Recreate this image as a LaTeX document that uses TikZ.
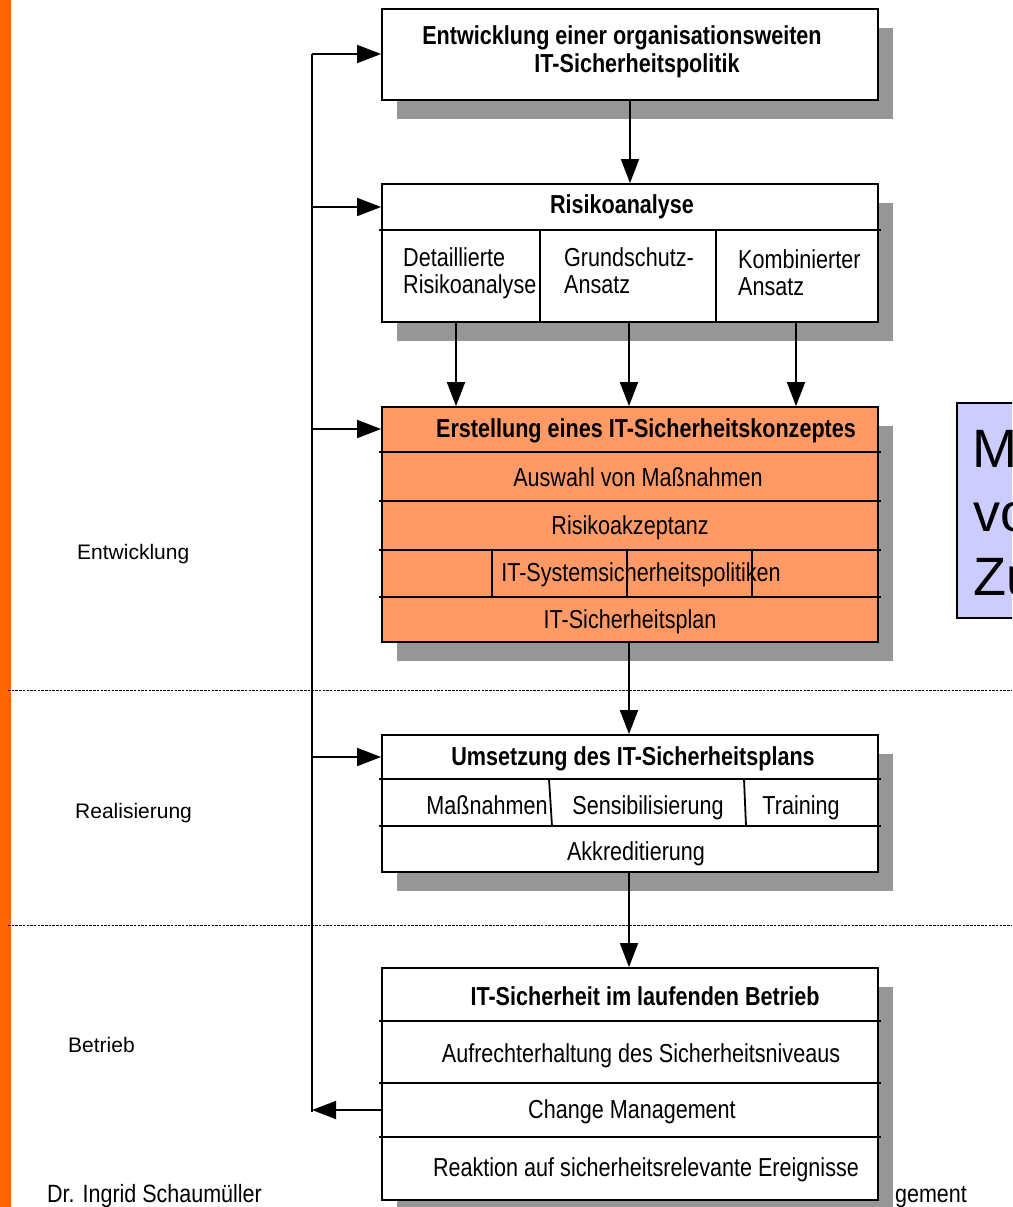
\documentclass[tikz,border=0pt]{standalone}
\usepackage{fontspec}
\setmainfont{Liberation Sans}
\newfontfamily\narrowfont[FakeStretch=0.83]{Liberation Sans}
\newfontfamily\footfont[FakeStretch=0.86]{Liberation Sans}
\usetikzlibrary{arrows.meta,shadows}
\definecolor{barorange}{HTML}{FF6600}
\definecolor{concept}{HTML}{FF9966}
\definecolor{shadowgray}{HTML}{969696}
\definecolor{notebg}{HTML}{CCCCFF}
\begin{document}
\begin{tikzpicture}[x=1pt,y=-1pt,
  box/.style={draw, line width=1.8pt, fill=white, inner sep=0pt, minimum width=496pt,
    drop shadow={opacity=1, fill=shadowgray, shadow xshift=15pt, shadow yshift=-19pt}},
  txt/.style={inner sep=0pt, font=\narrowfont\fontsize{26}{30}\selectfont, text height=18.6pt, text depth=0pt},
  ttl/.style={txt, font=\narrowfont\bfseries\fontsize{26}{30}\selectfont},
  lbl/.style={inner sep=0pt, anchor=west, font=\fontsize{21}{25}\selectfont, text height=15pt, text depth=0pt},
  foot/.style={inner sep=0pt, font=\footfont\fontsize{25}{29}\selectfont, text height=17.9pt, text depth=0pt},
  arr/.style={line width=1.8pt, -{Triangle[length=24pt,width=18pt]}},
  sep/.style={line width=1.8pt},
  phase/.style={line width=1pt, dash pattern=on 2.5pt off 1.2pt}]
\useasboundingbox (0,0) rectangle (1012,1207);
\clip (0,0) rectangle (1012,1207);

% orange margin strip
\fill[barorange] (0,0) rectangle (11,1207);

% phase borders
\draw[phase] (8,690) -- (1012,690);
\draw[phase] (8,925) -- (1012,925);

% phase names
\node[lbl] (pEnt) at (77,552) {Entwicklung};
\node[lbl] (pReal) at (75,811) {Realisierung};
\node[lbl] (pBet) at (68,1045) {Betrieb};

% footer
\node[foot, anchor=west] (author) at (47,1194) {Dr. Ingrid Schaumüller};
\node[foot, anchor=east] (course) at (967,1194) {gement};

% ---- step 1: policy
\node[box, minimum height=91pt] (b1) at (630,54.5) {};
\node[ttl] (t1a) at (622,35) {Entwicklung einer organisationsweiten};
\node[ttl] (t1b) at (637,63) {IT-Sicherheitspolitik};

% ---- step 2: risk analysis
\node[box, minimum height=138pt] (b2) at (630,253) {};
\node[ttl] (t2) at (622,204) {Risikoanalyse};
\draw[sep] ([xshift=-2pt]b2.west |- 0,230) -- ([xshift=2pt]b2.east |- 0,230);
\draw[sep] (540,230) -- (b2.south -| 540,0);
\draw[sep] (716,230) -- (b2.south -| 716,0);
\node[txt, anchor=west] (r1a) at (403,257) {Detaillierte};
\node[txt, anchor=west] (r1b) at (403,284) {Risikoanalyse};
\node[txt, anchor=west] (r2a) at (564,257) {Grundschutz-};
\node[txt, anchor=west] (r2b) at (564,284) {Ansatz};
\node[txt, anchor=west] (r3a) at (738,259) {Kombinierter};
\node[txt, anchor=west] (r3b) at (738,286) {Ansatz};

% ---- step 3: security concept
\node[box, fill=concept, minimum height=235pt] (b3) at (630,524.5) {};
\foreach \yy in {452,501,550,597}
  \draw[sep] ([xshift=-2pt]b3.west |- 0,\yy) -- ([xshift=2pt]b3.east |- 0,\yy);
\foreach \xx in {492,627,752}
  \draw[sep] (\xx,550) -- (\xx,597);
\node[ttl] (t3) at (646,428) {Erstellung eines IT-Sicherheitskonzeptes};
\node[txt] (c1) at (638,477) {Auswahl von Maßnahmen};
\node[txt] (c2) at (630,525) {Risikoakzeptanz};
\node[txt] (c3) at (641,572) {IT-Systemsicherheitspolitiken};
\node[txt] (c4) at (630,619) {IT-Sicherheitsplan};

% ---- step 4: implementation
\node[box, minimum height=137pt] (b4) at (630,803.5) {};
\foreach \yy in {779,826}
  \draw[sep] ([xshift=-2pt]b4.west |- 0,\yy) -- ([xshift=2pt]b4.east |- 0,\yy);
\draw[sep] (549,779) -- (552,826);
\draw[sep] (744,779) -- (746,826);
\node[ttl] (t4) at (633,756) {Umsetzung des IT-Sicherheitsplans};
\node[txt] (u1) at (487,805) {Maßnahmen};
\node[txt] (u2) at (648,805) {Sensibilisierung};
\node[txt] (u3) at (801,805) {Training};
\node[txt] (u4) at (636,851) {Akkreditierung};

% ---- step 5: operation
\node[box, minimum height=232pt] (b5) at (630,1084) {};
\foreach \yy in {1021,1083,1137}
  \draw[sep] ([xshift=-2pt]b5.west |- 0,\yy) -- ([xshift=2pt]b5.east |- 0,\yy);
\node[ttl] (t5) at (645,996) {IT-Sicherheit im laufenden Betrieb};
\node[txt] (o1) at (641,1053) {Aufrechterhaltung des Sicherheitsniveaus};
\node[txt] (o2) at (632,1109) {Change Management};
\node[txt] (o3) at (646,1167) {Reaktion auf sicherheitsrelevante Ereignisse};

% ---- note box at the right edge
\node[draw, line width=1.5pt, fill=notebg, inner sep=0pt, anchor=north west,
      minimum width=100pt, minimum height=215pt] (note) at (956,402) {};
\node[inner sep=0pt, anchor=base west, font=\fontsize{54}{64}\selectfont] (n1) at (972,467) {M};
\node[inner sep=0pt, anchor=base west, font=\fontsize{54}{64}\selectfont] (n2) at (973,531) {vo};
\node[inner sep=0pt, anchor=base west, font=\fontsize{54}{64}\selectfont] (n3) at (973,595) {Zu};

% ---- flow between the steps
\coordinate (k1) at (456,0);
\coordinate (k2) at (629,0);
\coordinate (k3) at (796,0);
\draw[arr] (b1.south) -- (b2.north);
\draw[arr] (b2.south -| k1) -- (b3.north -| k1);
\draw[arr] (b2.south -| k2) -- (b3.north -| k2);
\draw[arr] (b2.south -| k3) -- (b3.north -| k3);
\draw[arr] (b3.south -| k2) -- (b4.north -| k2);
\draw[arr] (b4.south -| k2) -- (b5.north -| k2);

% ---- feedback loop
\coordinate (bt) at (312,54);
\coordinate (bb) at (312,1112);
\draw[sep] (bt) -- (bb);
\draw[arr] (b5.west |- 0,1110) -- (bb |- 0,1110);
\draw[arr] (bt |- 0,54) -- (b1.west |- 0,54);
\draw[arr] (bt |- 0,207) -- (b2.west |- 0,207);
\draw[arr] (bt |- 0,429) -- (b3.west |- 0,429);
\draw[arr] (bt |- 0,757) -- (b4.west |- 0,757);
\end{tikzpicture}
\end{document}
